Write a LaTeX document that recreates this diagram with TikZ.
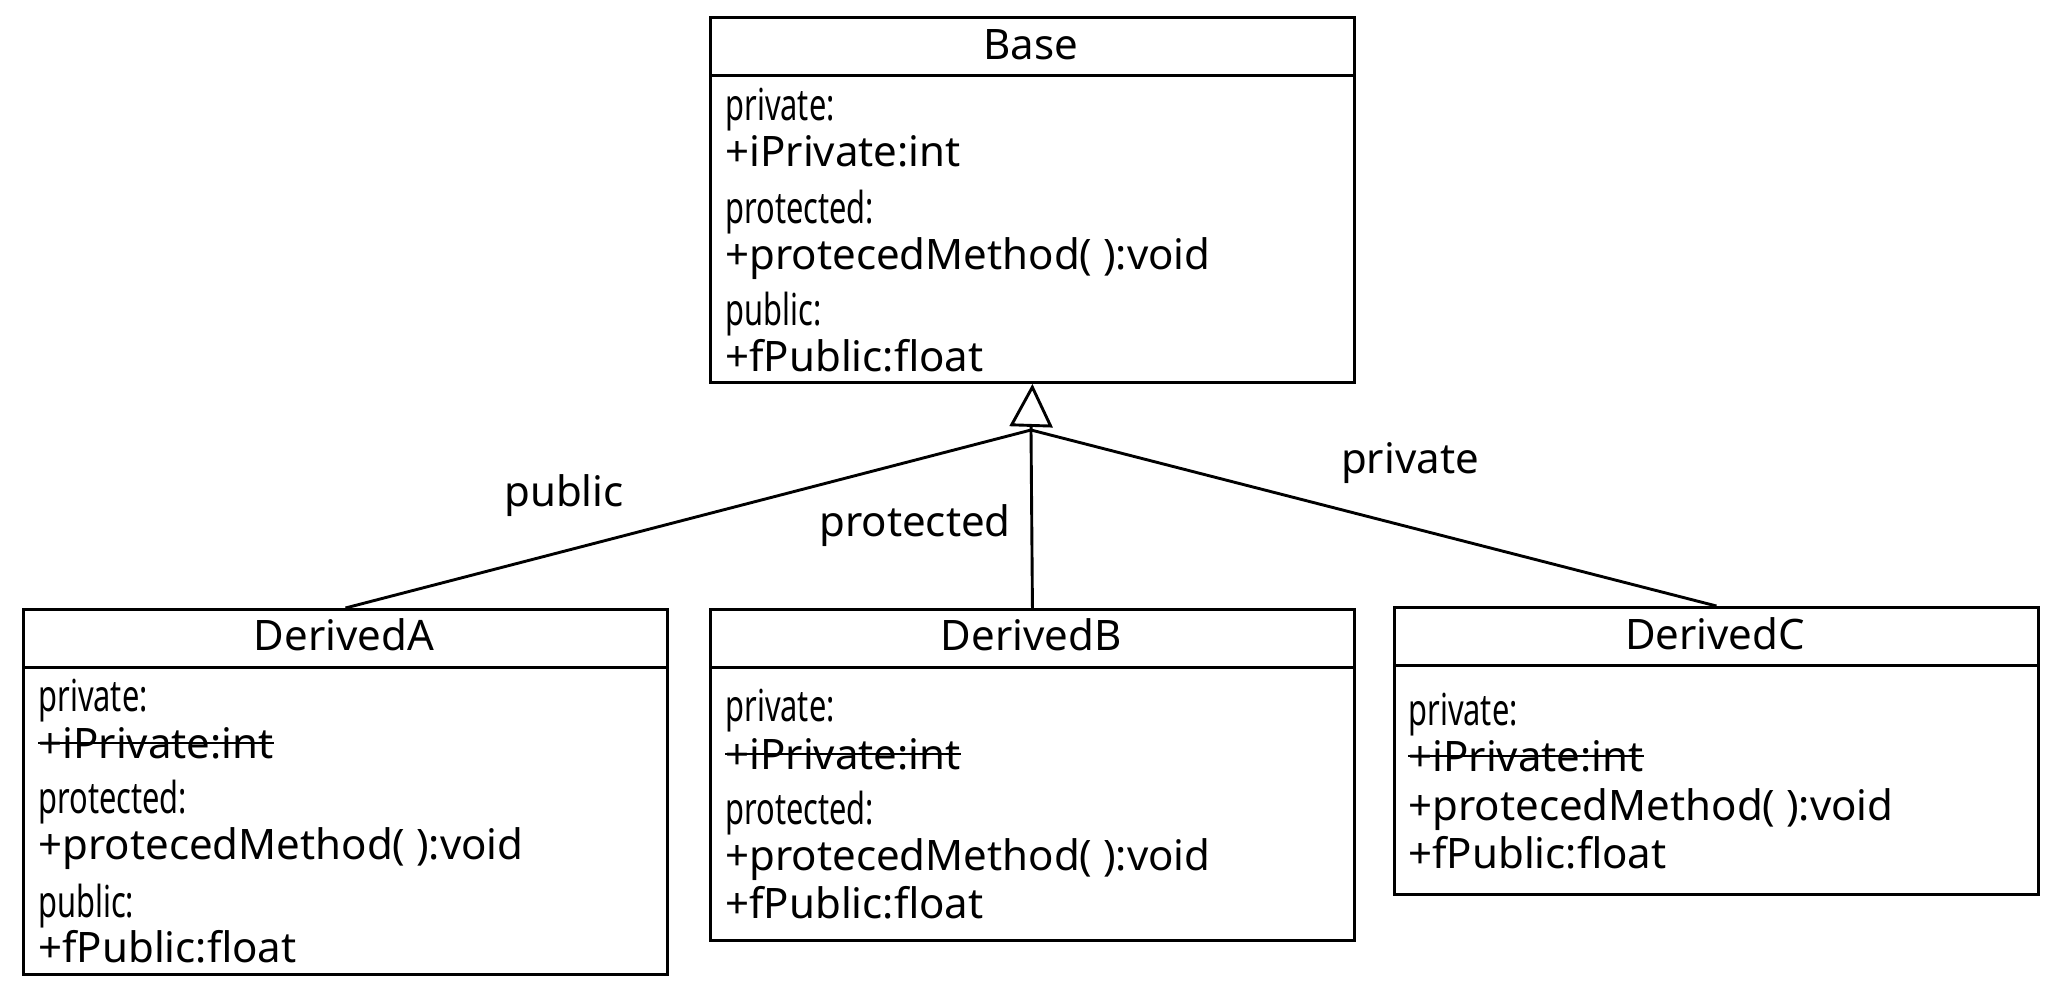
\documentclass[tikz,border=0pt]{standalone}
\usepackage{fontspec}
\setmainfont{Noto Sans}
\newfontfamily\condfont[FakeStretch=0.70]{Noto Sans}
\usetikzlibrary{arrows.meta}
\begin{document}
\begin{tikzpicture}[x=0.5pt,y=-0.5pt,
  umlbox/.style={draw, line width=1.45pt, minimum width=322pt, anchor=north west, inner sep=0pt},
  title/.style={font=\fontsize{21}{25}\selectfont, inner sep=0pt},
  member/.style={font=\fontsize{21}{25}\selectfont, anchor=west, inner sep=0pt, text height=15pt, text depth=0pt},
  section/.style={font=\condfont\fontsize{22}{26}\selectfont, anchor=west, inner sep=0pt, text height=15.8pt, text depth=0pt},
  rel/.style={line width=1.45pt},
  edgelabel/.style={font=\fontsize{21}{25}\selectfont, inner sep=0pt},
  strike/.style={line width=1pt}]
\useasboundingbox (0,0) rectangle (2062,996);
\fill[white] (0,0) rectangle (2062,996);

% boxes
\node[umlbox, minimum height=182.5pt] (base) at (709,16) {};
\node[umlbox, minimum height=182.5pt] (dA) at (22,608) {};
\node[umlbox, minimum height=165.5pt] (dB) at (709,608) {};
\node[umlbox, minimum height=143.5pt] (dC) at (1393,606) {};
\foreach \b in {base,dA,dB,dC}
  \draw[rel] ([yshift=-29.75pt]\b.north west) -- ([yshift=-29.75pt]\b.north east);

% Base
\node[title] (baseT) at (1031,45) {Base};
\node[section] (bS1) at (725,105) {private:};
\node[member] (bM1) at (725,151) {+iPrivate:int};
\node[section] (bS2) at (725,208) {protected:};
\node[member] (bM2) at (725,254) {+protecedMethod( ):void};
\node[section] (bS3) at (725,310) {public:};
\node[member] (bM3) at (725,356) {+fPublic:float};

% DerivedA
\node[title] (aT) at (344,635) {DerivedA};
\node[section] (aS1) at (38,696) {private:};
\node[member] (aM1) at (38,743) {+iPrivate:int};
\node[section] (aS2) at (38,798) {protected:};
\node[member] (aM2) at (38,844) {+protecedMethod( ):void};
\node[section] (aS3) at (38,902) {public:};
\node[member] (aM3) at (38,947) {+fPublic:float};
\draw[strike] (aM1.west) -- (aM1.east);

% DerivedB
\node[title] (bT) at (1031,635) {DerivedB};
\node[section] (cS1) at (725,706) {private:};
\node[member] (cM1) at (725,754) {+iPrivate:int};
\node[section] (cS2) at (725,809) {protected:};
\node[member] (cM2) at (725,855) {+protecedMethod( ):void};
\node[member] (cM3) at (725,903) {+fPublic:float};
\draw[strike] (cM1.west) -- (cM1.east);

% DerivedC
\node[title] (dT) at (1715,634) {DerivedC};
\node[section] (dS1) at (1408,710) {private:};
\node[member] (dM1) at (1408,756) {+iPrivate:int};
\node[member] (dM2) at (1408,805) {+protecedMethod( ):void};
\node[member] (dM3) at (1408,853) {+fPublic:float};
\draw[strike] (dM1.west) -- (dM1.east);

% inheritance
\coordinate (hub) at (1031,430);
\draw[rel, -{Triangle[open, width=21.5pt, length=21.5pt]}] (hub) -- (base.south);
\draw[rel] (hub) -- (dA.north);
\draw[rel] (hub) -- (dB.north);
\draw[rel] (hub) -- (dC.north);

\node[edgelabel] (lA) at (564,496) {public};
\node[edgelabel] (lB) at (915,526) {protected};
\node[edgelabel] (lC) at (1410,463) {private};
\end{tikzpicture}
\end{document}
